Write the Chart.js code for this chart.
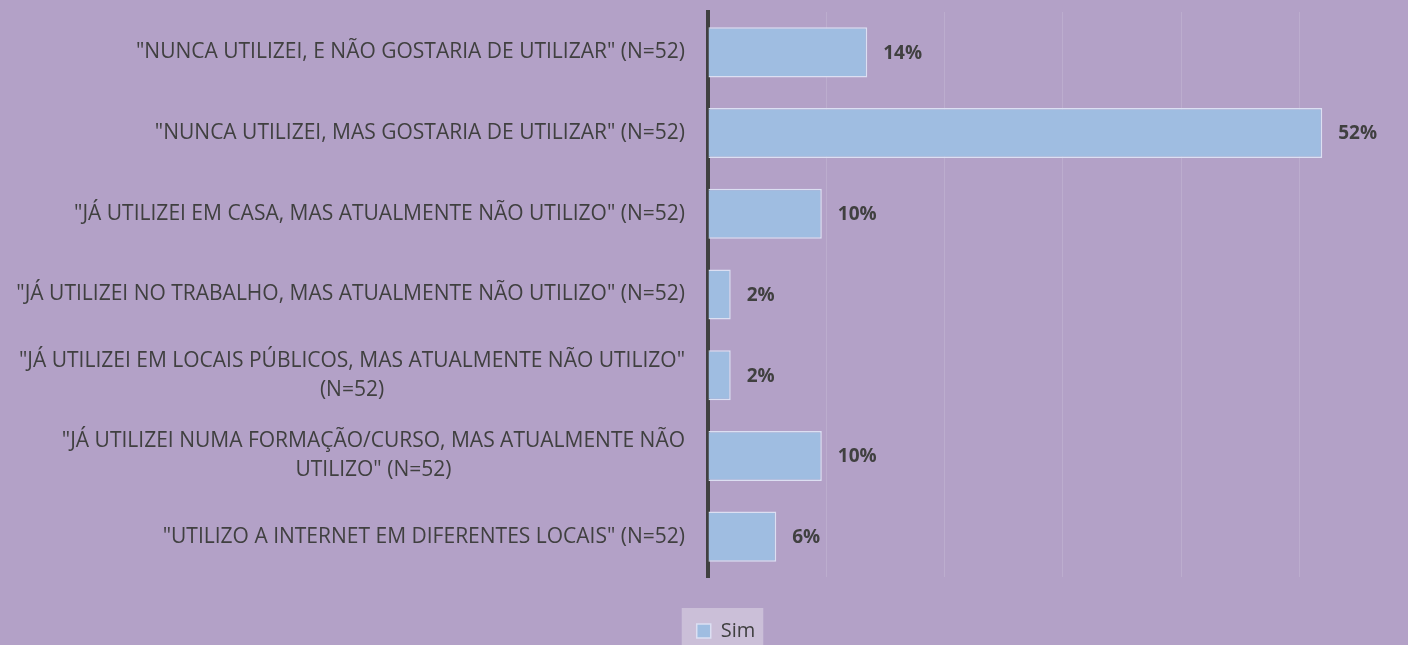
<!DOCTYPE html>
<html>
<head>
<meta charset="utf-8">
<script src="https://cdn.jsdelivr.net/npm/chart.js@4/dist/chart.umd.min.js"></script>
<style>
  html, body { margin: 0; padding: 0; background: #b3a1c7; }
  #wrap { width: 1408px; height: 645px; }
</style>
</head>
<body>
<div id="wrap"><canvas id="chart"></canvas></div>
<script>
const categories = [
  ['"NUNCA UTILIZEI, E NÃO GOSTARIA DE UTILIZAR" (N=52)'],
  ['"NUNCA UTILIZEI, MAS GOSTARIA DE UTILIZAR" (N=52)'],
  ['"JÁ UTILIZEI EM CASA, MAS ATUALMENTE NÃO UTILIZO" (N=52)'],
  ['"JÁ UTILIZEI NO TRABALHO, MAS ATUALMENTE NÃO UTILIZO" (N=52)'],
  ['"JÁ UTILIZEI EM LOCAIS PÚBLICOS, MAS ATUALMENTE NÃO UTILIZO"', '(N=52)'],
  ['"JÁ UTILIZEI NUMA FORMAÇÃO/CURSO, MAS ATUALMENTE NÃO', 'UTILIZO" (N=52)'],
  ['"UTILIZO A INTERNET EM DIFERENTES LOCAIS" (N=52)'],
];
const simValues = [13.46, 51.92, 9.62, 1.92, 1.92, 9.62, 5.77];
const simLabels = ["14%", "52%", "10%", "2%", "2%", "10%", "6%"];
const seriesName = "Sim";

const textColor = "#404040";
const fontFamily = '"Open Sans", sans-serif';

// category labels: right aligned block, wrapped lines centered inside it
const categoryLabels = {
  id: "categoryLabels",
  afterDraw(chart) {
    const { ctx } = chart;
    const y = chart.scales.y;
    const right = chart.chartArea.left - 23;
    ctx.save();
    ctx.font = "21px " + fontFamily;
    ctx.fillStyle = textColor;
    ctx.textAlign = "center";
    ctx.textBaseline = "middle";
    categories.forEach((lines, i) => {
      const widest = Math.max(...lines.map((l) => ctx.measureText(l).width));
      const cx = right - widest / 2;
      const cy = y.getPixelForValue(i);
      lines.forEach((l, j) => {
        ctx.fillText(l, cx, cy + (j - (lines.length - 1) / 2) * 29);
      });
    });
    ctx.restore();
  },
};

// bold percentage after each bar
const valueLabels = {
  id: "valueLabels",
  afterDatasetsDraw(chart) {
    const { ctx } = chart;
    const meta = chart.getDatasetMeta(0);
    ctx.save();
    ctx.font = "bold 19px " + fontFamily;
    ctx.fillStyle = textColor;
    ctx.textAlign = "left";
    ctx.textBaseline = "middle";
    meta.data.forEach((bar, i) => {
      ctx.fillText(simLabels[i], bar.x + 16, bar.y + 1);
    });
    ctx.restore();
  },
};

// lighter box behind the legend
const legendBox = {
  id: "legendBox",
  beforeDraw(chart) {
    const lg = chart.legend;
    if (!lg || !lg.legendHitBoxes.length) return;
    const hb = lg.legendHitBoxes[0];
    const { ctx } = chart;
    const cy = hb.top + hb.height / 2;
    ctx.save();
    ctx.fillStyle = "#cbbfd8";
    ctx.fillRect(hb.left - 15, cy - 23, hb.width + 23, chart.height - cy + 23);
    ctx.restore();
  },
};

new Chart(document.getElementById("chart"), {
  type: "bar",
  data: {
    labels: categories,
    datasets: [{
      label: seriesName,
      data: simValues,
      backgroundColor: "#9fbde1",
      borderColor: "#dcdff2",
      borderWidth: 1.5,
      barPercentage: 0.62,
      categoryPercentage: 1,
    }],
  },
  options: {
    indexAxis: "y",
    responsive: true,
    maintainAspectRatio: false,
    animation: false,
    layout: { padding: { left: 44, right: 0, top: 12, bottom: -6 } },
    plugins: {
      legend: {
        position: "bottom",
        labels: {
          color: textColor,
          font: { family: fontFamily, size: 20 },
          boxWidth: 14,
          boxHeight: 14,
          padding: 0,
        },
      },
      tooltip: { enabled: false },
    },
    scales: {
      x: {
        min: 0,
        max: 59.17,
        ticks: { display: false, stepSize: 10 },
        grid: { color: "rgba(255,255,255,0.13)", lineWidth: 1, drawTicks: false },
        border: { display: false },
        afterFit: (scale) => { scale.height = 44; },
      },
      y: {
        ticks: { display: false },
        grid: { display: false },
        border: { display: true, color: "#404040", width: 4 },
        afterFit: (scale) => { scale.width = 664; },
      },
    },
  },
  plugins: [categoryLabels, valueLabels, legendBox],
});
</script>
</body>
</html>
